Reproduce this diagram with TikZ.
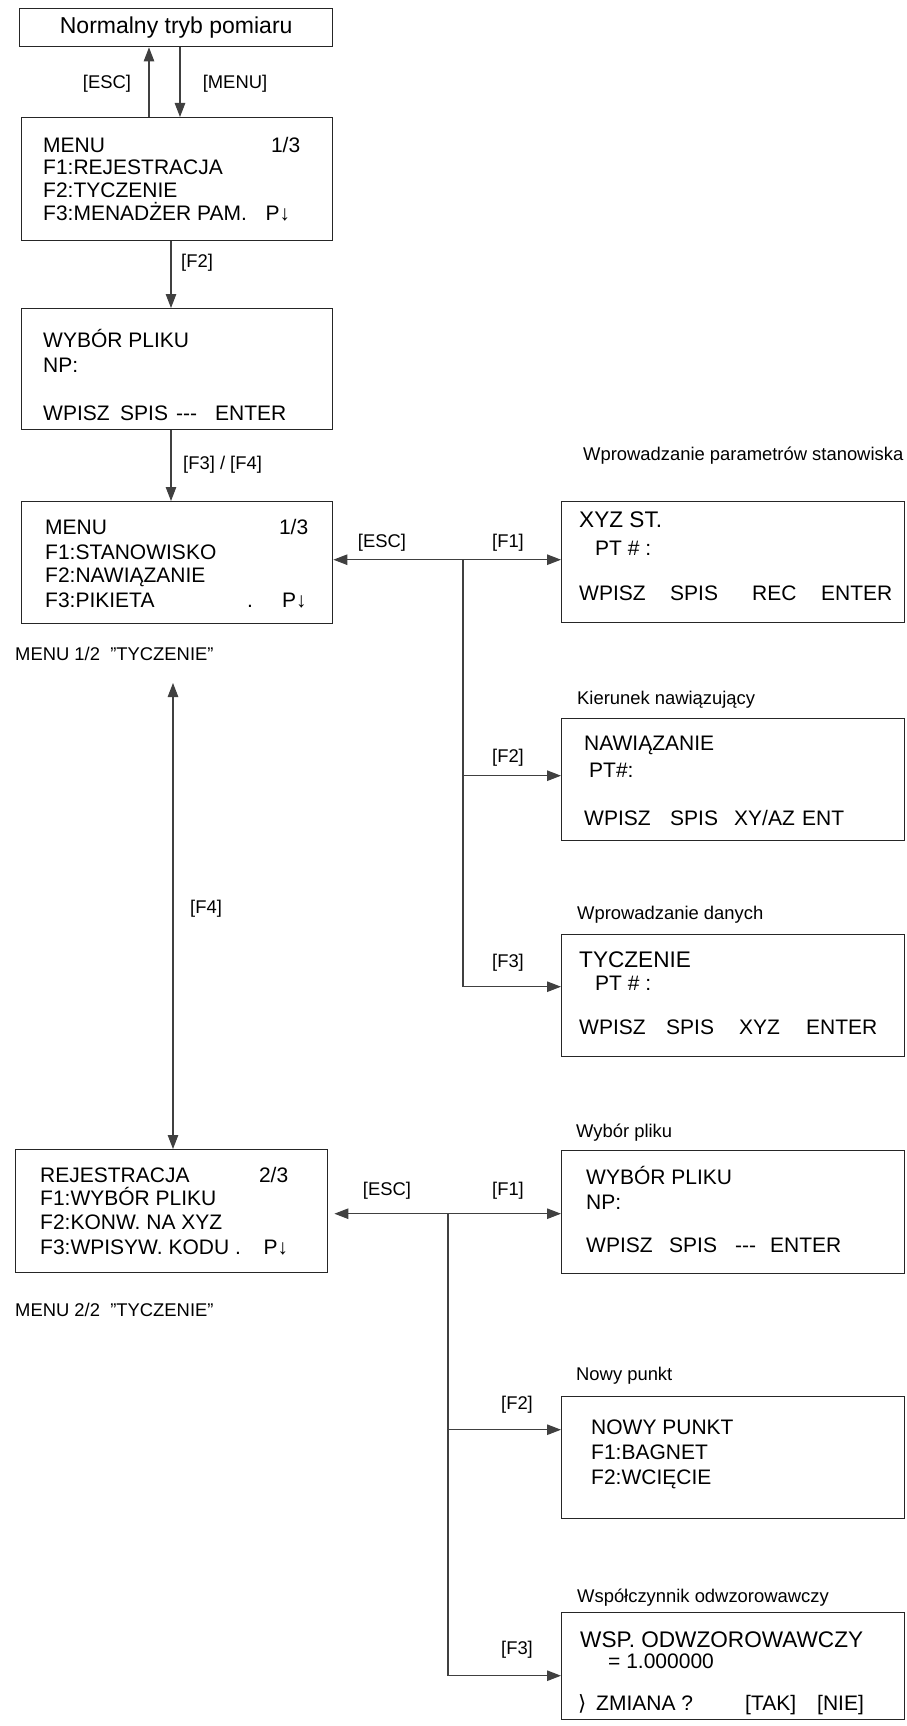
\documentclass[tikz,border=0pt]{standalone}
\usepackage{fontspec}
\setmainfont{Liberation Sans}
\newfontfamily\djv{DejaVu Sans}
\usetikzlibrary{arrows.meta}
\newcommand\cw[2]{\makebox[#1pt][l]{#2}}
\tikzset{
  scr/.style={draw=black!85, line width=1.4pt, inner sep=0pt, anchor=north west},
  bt/.style={font=\fontsize{21}{24}\selectfont, inner sep=0pt, anchor=base west},
  btl/.style={bt, font=\fontsize{22.6}{26}\selectfont},
  lab/.style={font=\fontsize{18.4}{22}\selectfont, inner sep=0pt, anchor=base},
  ttl/.style={font=\fontsize{18.4}{22}\selectfont, inner sep=0pt, anchor=base west},
  con/.style={draw=black!75, line width=1.1pt},
  arr/.style={con, -{Triangle[length=14pt,width=10.5pt]}},
  arrb/.style={con, {Triangle[length=14pt,width=10.5pt]}-{Triangle[length=14pt,width=10.5pt]}},
}
\begin{document}
\begin{tikzpicture}[x=1pt,y=-1pt]
\useasboundingbox (0,0) rectangle (906,1726);

% top
\node[scr, minimum width=313pt, minimum height=38pt, font=\fontsize{23}{27}\selectfont] (top) at (19,8) {Normalny tryb pomiaru};

% menu 1
\node[scr, minimum width=311pt, minimum height=123pt] (m1) at (21,117) {};
\node[bt] (m1a) at (43,153) {\makebox[257pt][l]{MENU\hfill 1/3}};
\node[bt] (m1b) at (43,174) {F1:REJESTRACJA};
\node[bt] (m1c) at (43,197) {F2:TYCZENIE};
\node[bt] (m1d) at (43,220) {\makebox[247pt][l]{F3:MENADŻER PAM.\hfill P↓}};

% file select
\node[scr, minimum width=311pt, minimum height=121pt] (wyb) at (21,308) {};
\node[bt] (wyba) at (43,347) {WYBÓR PLIKU};
\node[bt] (wybb) at (43,372) {NP:};
\node[bt] (wybc) at (43,420) {\cw{77}{WPISZ}\cw{56}{SPIS}\cw{39}{-{}-{}-}ENTER};

% menu 2
\node[scr, minimum width=311pt, minimum height=122pt] (m2) at (21,501) {};
\node[bt] (m2a) at (45,534) {\makebox[263pt][l]{MENU\hfill 1/3}};
\node[bt] (m2b) at (45,559) {F1:STANOWISKO};
\node[bt] (m2c) at (45,582) {F2:NAWIĄZANIE};
\node[bt] (m2d) at (45,607) {\cw{202}{F3:PIKIETA}\cw{35}{.}P↓};
\node[lab, anchor=base west] (n12) at (15,660) {MENU 1/2\ \ "TYCZENIE"};

% rejestracja
\node[scr, minimum width=312pt, minimum height=123pt] (rej) at (15,1149) {};
\node[bt] (reja) at (40,1182) {\makebox[248pt][l]{REJESTRACJA\hfill 2/3}};
\node[bt] (rejb) at (40,1205) {F1:WYBÓR PLIKU};
\node[bt] (rejc) at (40,1229) {F2:KONW. NA XYZ};
\node[bt] (rejd) at (40,1254) {\makebox[248pt][l]{F3:WPISYW. KODU .\hfill P↓}};
\node[lab, anchor=base west] (n22) at (15,1316) {MENU 2/2\ \ "TYCZENIE"};

% right boxes
\node[ttl] (t1) at (583,460) {Wprowadzanie parametrów stanowiska};
\node[scr, minimum width=343pt, minimum height=121pt] (r1) at (561,501) {};
\node[btl] (r1a) at (579,527) {XYZ ST.};
\node[bt] (r1b) at (595,555) {PT \# :};
\node[bt] (r1c) at (579,600) {\cw{91}{WPISZ}\cw{82}{SPIS}\cw{69}{REC}ENTER};

\node[ttl] (t2) at (577,704) {Kierunek nawiązujący};
\node[scr, minimum width=343pt, minimum height=122pt] (r2) at (561,718) {};
\node[bt] (r2a) at (584,750) {NAWIĄZANIE};
\node[bt] (r2b) at (589,777) {PT\#:};
\node[bt] (r2c) at (584,825) {\cw{86}{WPISZ}\cw{64}{SPIS}\cw{68}{XY/AZ}ENT};

\node[ttl] (t3) at (577,919) {Wprowadzanie danych};
\node[scr, minimum width=343pt, minimum height=122pt] (r3) at (561,934) {};
\node[btl] (r3a) at (579,967) {TYCZENIE};
\node[bt] (r3b) at (595,990) {PT \# :};
\node[bt] (r3c) at (579,1034) {\cw{87}{WPISZ}\cw{73}{SPIS}\cw{67}{XYZ}ENTER};

\node[ttl] (t4) at (576,1137) {Wybór pliku};
\node[scr, minimum width=343pt, minimum height=123pt] (r4) at (561,1150) {};
\node[bt] (r4a) at (586,1184) {WYBÓR PLIKU};
\node[bt] (r4b) at (586,1209) {NP:};
\node[bt] (r4c) at (586,1252) {\cw{83}{WPISZ}\cw{66}{SPIS}\cw{35}{-{}-{}-}ENTER};

\node[ttl] (t5) at (576,1380) {Nowy punkt};
\node[scr, minimum width=343pt, minimum height=122pt] (r5) at (561,1396) {};
\node[bt] (r5a) at (591,1434) {NOWY PUNKT};
\node[bt] (r5b) at (591,1459) {F1:BAGNET};
\node[bt] (r5c) at (591,1484) {F2:WCIĘCIE};

\node[ttl] (t6) at (577,1602) {Współczynnik odwzorowawczy};
\node[scr, minimum width=343pt, minimum height=107pt] (r6) at (561,1612) {};
\node[btl] (r6a) at (580,1647) {WSP. ODWZOROWAWCZY};
\node[bt] (r6b) at (608,1668) {= 1.000000};
\node[bt] (r6c) at (578,1710) {\cw{18}{\djv ⟩}\cw{149}{ZMIANA ?}\cw{72}{[TAK]}[NIE]};

% connectors top
\draw[arr] ([xshift=128pt]m1.north west) -- ([xshift=128pt]m1.north west |- top.south);
\draw[arr] ([xshift=159pt]m1.north west |- top.south) -- ([xshift=159pt]m1.north west);
\node[lab] (lesc0) at (107,89) {[ESC]};
\node[lab] (lmenu) at (235,89) {[MENU]};

\draw[arr] ([xshift=150pt]m1.south west) -- ([xshift=150pt]m1.south west |- wyb.north);
\node[lab, anchor=base west] (lf2a) at (181,267) {[F2]};
\draw[arr] ([xshift=150pt]wyb.south west) -- ([xshift=150pt]wyb.south west |- m2.north);
\node[lab, anchor=base west] (lf34) at (183,469) {[F3] / [F4]};

% double arrow
\coordinate (c12) at (173,683);
\draw[arrb] (c12) -- (c12 |- rej.north);
\node[lab, anchor=base west] (lf4) at (190,913) {[F4]};

% upper branch
\coordinate (b1) at (463,559);
\draw[arrb] ([yshift=3pt]m2.east) -- ([yshift=3pt]m2.east -| r1.west);
\draw[arr] (b1) |- ([yshift=4pt]r2.west);
\draw[arr] (b1) |- ([yshift=9pt]r3.west);
\node[lab] (lesc1) at (382,547) {[ESC]};
\node[lab] (lf1a) at (508,547) {[F1]};
\node[lab] (lf2b) at (508,762) {[F2]};
\node[lab] (lf3a) at (508,967) {[F3]};

% lower branch
\coordinate (b2) at (448,1213);
\draw[arrb, shorten <=6pt] ([yshift=-2.5pt]rej.east) -- ([yshift=-2.5pt]rej.east -| r4.west);
\draw[arr] (b2) |- ([yshift=28pt]r5.west);
\draw[arr] (b2) |- ([yshift=-9.5pt]r6.west);
\node[lab] (lesc2) at (387,1195) {[ESC]};
\node[lab] (lf1b) at (508,1195) {[F1]};
\node[lab] (lf2c) at (517,1409) {[F2]};
\node[lab] (lf3b) at (517,1654) {[F3]};
\end{tikzpicture}
\end{document}
